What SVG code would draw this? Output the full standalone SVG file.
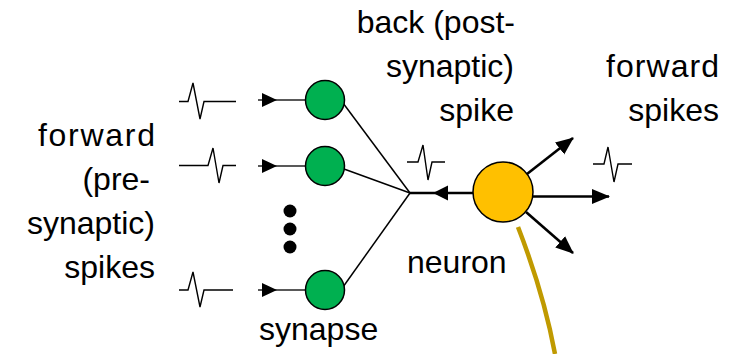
<svg xmlns="http://www.w3.org/2000/svg" width="738" height="354" viewBox="0 0 738 354">
  <style>
    .lbl { font-family: "Liberation Sans", Arial, sans-serif; font-size: 32px; fill: #000; }
    .r { text-anchor: end; }
    .spike { fill: none; stroke: #000; stroke-width: 1.4; stroke-linejoin: miter; }
    .thin { stroke: #000; stroke-width: 1.5; fill: none; }
    .in { stroke: #222; stroke-width: 1.6; fill: none; }
    .thick { stroke: #000; stroke-width: 2.6; fill: none; }
    .syn { fill: #00B050; stroke: #000; stroke-width: 1.5; }
    .neu { fill: #FFC000; stroke: #000; stroke-width: 1.5; }
  </style>
  <defs>
    <marker id="head" viewBox="0 0 18 16" refX="17" refY="8" markerWidth="18" markerHeight="16" markerUnits="userSpaceOnUse" orient="auto">
      <path d="M0,0.5 L18,8 L0,15.5 z" fill="#000"/>
    </marker>
    <path id="inHead" d="M0,0 L-15,-7 L-15,7 z" fill="#000"/>
  </defs>

  <!-- spike waveforms -->
  <g id="waves">
    <path class="spike" d="M179,101.5 H188 L193,83 L200,119 L204,101.5 H236"/>
    <path class="spike" d="M179,165.5 H208 L213,148 L219,183 L223,165.5 H236"/>
    <path class="spike" d="M179,290 H188 L193,272 L200,307 L204,290 H233"/>
    <path class="spike" d="M407,162 H418 L423,145 L428,180 L432,162 H445"/>
    <path class="spike" d="M593,164 H604 L608,147 L614,182 L618,164 H632"/>
  </g>

  <!-- connectors -->
  <g id="connectors">
    <line class="in" x1="258" y1="100" x2="306" y2="100"/>
    <line class="in" x1="258" y1="166" x2="306" y2="166"/>
    <line class="in" x1="258" y1="290" x2="306" y2="290"/>
    <use href="#inHead" x="277" y="100"/>
    <use href="#inHead" x="277" y="166"/>
    <use href="#inHead" x="277" y="290"/>
    <line class="thin" x1="343" y1="103" x2="410" y2="193"/>
    <line class="thin" x1="344" y1="169" x2="410" y2="193"/>
    <line class="thin" x1="343" y1="287" x2="410" y2="193"/>
    <line class="thick" x1="474" y1="193" x2="410" y2="193"/>
    <path d="M433,193 L448,185.5 L448,200.5 z" fill="#000"/>
    <line class="thick" x1="527" y1="174" x2="573" y2="138" marker-end="url(#head)"/>
    <line class="thick" x1="533" y1="196.5" x2="609" y2="196.5" marker-end="url(#head)"/>
    <line class="thick" x1="526" y1="212" x2="573" y2="253" marker-end="url(#head)"/>
    <path d="M518,227 C530,258 545,300 555,354" fill="none" stroke="#C09A00" stroke-width="4.5"/>
  </g>

  <!-- ellipsis between synapses -->
  <g id="dots" fill="#000">
    <circle cx="290" cy="211" r="6.5"/>
    <circle cx="290" cy="229" r="6.5"/>
    <circle cx="290" cy="247" r="6.5"/>
  </g>

  <g id="synapse1"><circle class="syn" cx="325" cy="100" r="19.5"/></g>
  <g id="synapse2"><circle class="syn" cx="325" cy="166" r="19.5"/></g>
  <g id="synapse3"><circle class="syn" cx="325" cy="290" r="19.5"/></g>
  <g id="neuron"><circle class="neu" cx="503" cy="192" r="30"/></g>

  <!-- labels -->
  <g id="labels">
    <text class="lbl r" x="155" y="146" textLength="117" lengthAdjust="spacing">forward</text>
    <text class="lbl r" x="150" y="190">(pre-</text>
    <text class="lbl r" x="155" y="234">synaptic)</text>
    <text class="lbl r" x="155" y="278">spikes</text>
    <text class="lbl r" x="515" y="33">back (post-</text>
    <text class="lbl r" x="514" y="77">synaptic)</text>
    <text class="lbl r" x="514" y="121">spike</text>
    <text class="lbl r" x="719" y="77" textLength="113" lengthAdjust="spacing">forward</text>
    <text class="lbl r" x="719" y="121">spikes</text>
    <text class="lbl" x="407" y="273">neuron</text>
    <text class="lbl" x="259" y="340">synapse</text>
  </g>
</svg>
